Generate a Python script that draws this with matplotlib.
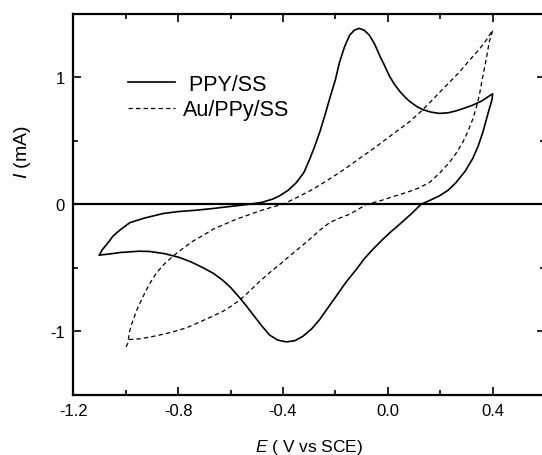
import matplotlib
matplotlib.use("Agg")
import matplotlib.pyplot as plt
from matplotlib.ticker import MultipleLocator

plt.rcParams['font.family'] = ['Liberation Sans', 'DejaVu Sans']
plt.rcParams['mathtext.fontset'] = 'custom'
plt.rcParams['mathtext.rm'] = 'Liberation Sans'
plt.rcParams['mathtext.it'] = 'Liberation Sans:italic'
plt.rcParams['axes.unicode_minus'] = False

# PPY/SS cycle: anodic branch from -1.1 V up to 0.4 V, then cathodic branch back
ppy_E = [-1.10, -1.09, -1.07, -1.048, -1.02, -0.984, -0.93, -0.857, -0.80,
         -0.73, -0.66, -0.603, -0.56, -0.527, -0.48, -0.44, -0.413, -0.38,
         -0.349, -0.32, -0.298, -0.28, -0.26, -0.24, -0.222, -0.20, -0.184,
         -0.165, -0.146, -0.128, -0.11, -0.09, -0.07, -0.05, -0.031, -0.012,
         0.006, 0.025, 0.045, 0.065, 0.083, 0.11, 0.133, 0.165, 0.197, 0.23,
         0.26, 0.29, 0.324, 0.36, 0.40,
         0.398, 0.393, 0.387, 0.375, 0.363, 0.345, 0.324, 0.295, 0.26, 0.23,
         0.197, 0.16, 0.127, 0.09, 0.045, 0.01, -0.019, -0.057, -0.09, -0.12,
         -0.16, -0.197, -0.23, -0.26, -0.29, -0.324, -0.355, -0.387, -0.42,
         -0.451, -0.48, -0.514, -0.54, -0.565, -0.60, -0.629, -0.665, -0.705,
         -0.75, -0.794, -0.85, -0.908, -0.95, -0.984, -1.02, -1.048, -1.075,
         -1.10]
ppy_I = [-0.40, -0.36, -0.31, -0.25, -0.20, -0.145, -0.11, -0.073, -0.058,
         -0.047, -0.032, -0.018, -0.008, 0.0, 0.015, 0.04, 0.066, 0.11,
         0.17, 0.25, 0.355, 0.45, 0.566, 0.70, 0.83, 0.98, 1.12,
         1.24, 1.33, 1.37, 1.385, 1.37, 1.33, 1.26, 1.17, 1.09,
         1.01, 0.945, 0.89, 0.845, 0.81, 0.77, 0.745, 0.725, 0.715, 0.72,
         0.735, 0.755, 0.78, 0.815, 0.87,
         0.83, 0.79, 0.75, 0.66, 0.57, 0.46, 0.36, 0.26, 0.17, 0.11,
         0.066, 0.03, 0.0, -0.075, -0.158, -0.22, -0.276, -0.355, -0.43, -0.513,
         -0.615, -0.724, -0.82, -0.908, -0.98, -1.04, -1.075, -1.084, -1.07,
         -1.03, -0.96, -0.87, -0.80, -0.737, -0.655, -0.60, -0.545, -0.50,
         -0.455, -0.42, -0.39, -0.372, -0.37, -0.375, -0.38, -0.388, -0.395,
         -0.40]

# Au/PPy/SS cycle
au_E = [-0.99, -0.985, -0.978, -0.971, -0.955, -0.933, -0.91, -0.882, -0.85,
        -0.819, -0.78, -0.743, -0.70, -0.667, -0.62, -0.578, -0.53, -0.489,
        -0.445, -0.40, -0.34, -0.286, -0.235, -0.184, -0.14, -0.095, -0.05,
        -0.006, 0.044, 0.083, 0.121, 0.16, 0.197, 0.235, 0.273, 0.31, 0.349,
        0.375, 0.40,
        0.396, 0.387, 0.378, 0.368, 0.358, 0.349, 0.337, 0.324, 0.306, 0.286,
        0.26, 0.235, 0.20, 0.159, 0.115, 0.070, 0.02, -0.032, -0.08, -0.146,
        -0.185, -0.222, -0.26, -0.298, -0.335, -0.375, -0.41, -0.451, -0.49,
        -0.527, -0.565, -0.603, -0.635, -0.667, -0.72, -0.768, -0.82, -0.870,
        -0.91, -0.946, -0.985, -1.0]
au_I = [-1.065, -1.0, -0.95, -0.908, -0.82, -0.724, -0.63, -0.539, -0.465,
        -0.408, -0.345, -0.29, -0.24, -0.197, -0.155, -0.118, -0.083, -0.053,
        -0.025, 0.0, 0.06, 0.118, 0.182, 0.25, 0.313, 0.38, 0.445,
        0.513, 0.59, 0.65, 0.72, 0.80, 0.88, 0.96, 1.04, 1.13, 1.22,
        1.29, 1.37,
        1.34, 1.28, 1.17, 1.065, 0.96, 0.855, 0.76, 0.67, 0.575, 0.487,
        0.40, 0.329, 0.25, 0.171, 0.125, 0.092, 0.06, 0.025, 0.0, -0.079,
        -0.11, -0.145, -0.205, -0.276, -0.34, -0.408, -0.47, -0.539, -0.61,
        -0.684, -0.755, -0.81, -0.85, -0.88, -0.93, -0.973, -1.005, -1.03,
        -1.047, -1.06, -1.065, -1.13]

x_ticks = [-1.2, -0.8, -0.4, 0.0, 0.4]
y_ticks = [-1, 0, 1]

fig = plt.figure(figsize=(5.42, 4.56), dpi=100)
ax = fig.add_axes([0.1352, 0.1322, 0.8705, 0.8355])

ax.axhline(0, color='black', lw=1.6)
ax.plot(ppy_E, ppy_I, color='black', lw=1.2, label=' PPY/SS')
ax.plot(au_E, au_I, color='black', lw=0.9, linestyle=(0, (3.5, 2.5)),
        label='Au/PPy/SS')

ax.set_xlim(-1.2, 0.6)
ax.set_ylim(-1.5, 1.5)
ax.set_xticks(x_ticks)
ax.set_xticklabels([f"{v:.1f}" for v in x_ticks])
ax.set_yticks(y_ticks)
ax.xaxis.set_minor_locator(MultipleLocator(0.2))
ax.yaxis.set_minor_locator(MultipleLocator(0.5))
ax.tick_params(which='both', direction='in', top=True, right=True,
               labelsize=12, width=1.2)
ax.tick_params(which='major', length=6, pad=6)
ax.tick_params(which='minor', length=3.5)
for s in ax.spines.values():
    s.set_linewidth(1.6)

ax.set_xlabel(r'$\mathit{E}$ ( V vs SCE)', fontsize=12.5, labelpad=14)
ax.set_ylabel(r'$\mathit{I}$ (mA)', fontsize=14)
ax.yaxis.set_label_coords(-0.085, 0.64)

ax.legend(loc='upper left', bbox_to_anchor=(0.097, 0.865), frameon=False,
          fontsize=15.5, handlelength=2.2, handletextpad=0.36,
          labelspacing=0.2, borderaxespad=0)

fig.savefig('out.png', dpi=100)
